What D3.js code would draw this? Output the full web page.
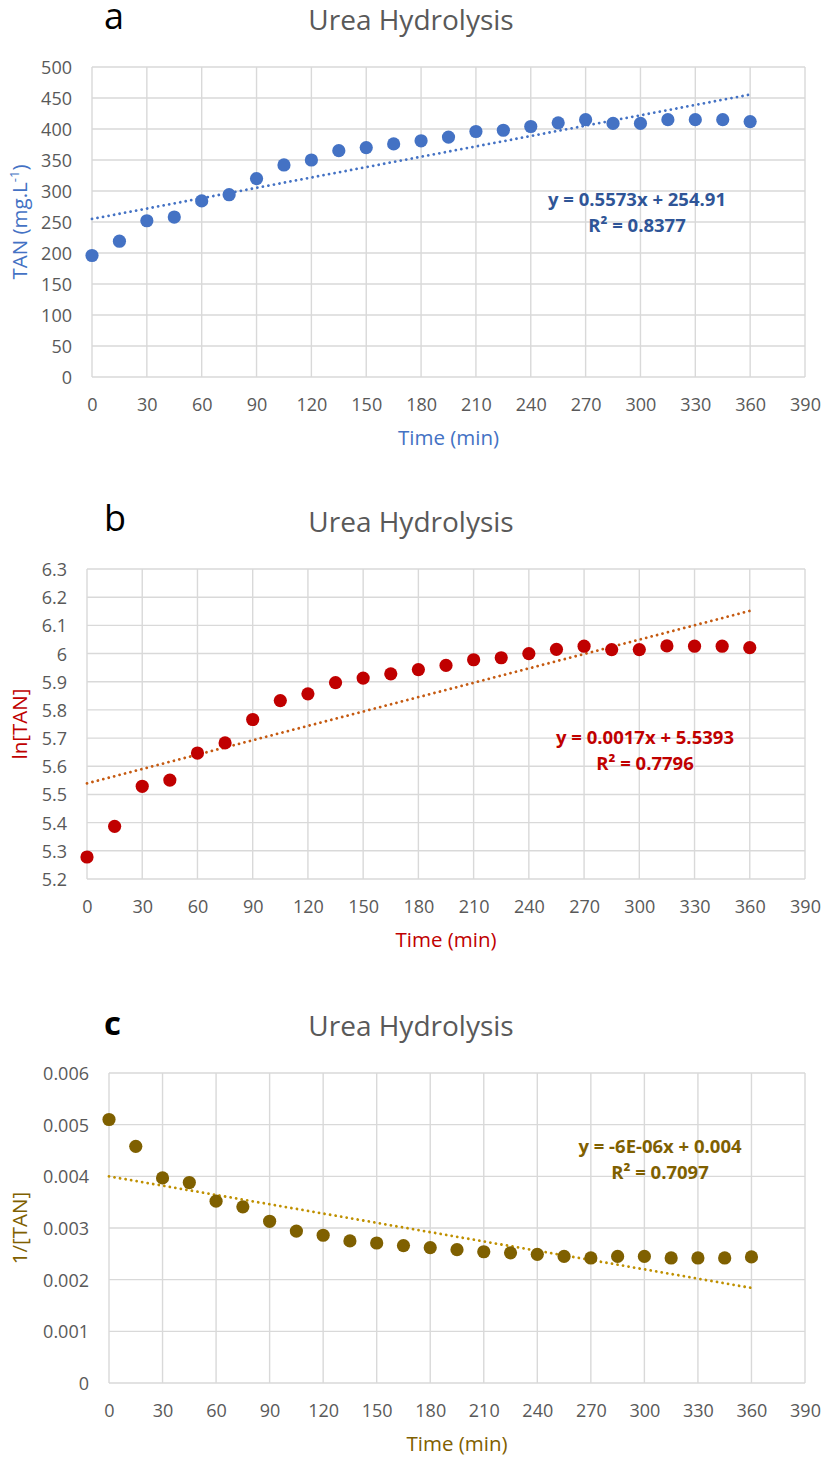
<!DOCTYPE html>
<html>
<head>
<meta charset="utf-8">
<script src="https://cdn.jsdelivr.net/npm/d3@7"></script>
<style>
  html, body { margin: 0; padding: 0; background: #fff; }
  svg { display: block; font-family: "Open Sans", "Noto Sans", sans-serif; }
</style>
</head>
<body>
<svg id="chart" width="823" height="1459"></svg>
<script>
// Sampling times (min)
const times = [0, 15, 30, 45, 60, 75, 90, 105, 120, 135, 150, 165, 180,
               195, 210, 225, 240, 255, 270, 285, 300, 315, 330, 345, 360];

// Total ammonia nitrogen, mg/L
const tanValues = [196, 219, 252, 258, 284, 294, 320, 342, 350, 365, 370, 376, 381,
                   387, 396, 398, 404, 410, 415, 409, 409, 415, 415, 415, 412];

// ln[TAN]
const lnTanValues = [5.278, 5.387, 5.529, 5.551, 5.647, 5.683, 5.766, 5.833, 5.857, 5.897, 5.913, 5.928, 5.943,
                     5.958, 5.978, 5.985, 6.000, 6.015, 6.026, 6.014, 6.014, 6.027, 6.026, 6.026, 6.021];

// 1/[TAN]
const invTanValues = [0.00510, 0.00458, 0.00397, 0.00388, 0.00352, 0.00341, 0.00313, 0.00294, 0.00286, 0.00275, 0.00271, 0.00266, 0.00262,
                      0.00258, 0.00254, 0.00252, 0.00249, 0.00245, 0.00242, 0.00245, 0.00245, 0.00242, 0.00242, 0.00242, 0.00244];

// Linear trendline coefficients [slope, intercept, R²]
const fitA = [0.5573, 254.91, 0.8377];
const fitB = [0.0017, 5.5393, 0.7796];
const fitC = [-6e-06, 0.004, 0.7097];

// Tick values
const xTicks = [0, 30, 60, 90, 120, 150, 180, 210, 240, 270, 300, 330, 360, 390];
const yTicksA = [0, 50, 100, 150, 200, 250, 300, 350, 400, 450, 500];
const yTicksB = [5.2, 5.3, 5.4, 5.5, 5.6, 5.7, 5.8, 5.9, 6.0, 6.1, 6.2, 6.3];
const yTicksC = [0, 0.001, 0.002, 0.003, 0.004, 0.005, 0.006];

const equationLabels = {
  a: ["y = 0.5573x + 254.91", "R² = 0.8377"],
  b: ["y = 0.0017x + 5.5393", "R² = 0.7796"],
  c: ["y = -6E-06x + 0.004", "R² = 0.7097"]
};

const svg = d3.select("#chart");

const panels = [
  {
    letter: "a", letterBold: false, letterSize: 36,
    box: {left: 92, right: 805, top: 67, bottom: 377},
    values: tanValues, fit: fitA, yTicks: yTicksA, yFmt: d3.format("d"),
    pointColor: "#4472C4", trendColor: "#4472C4", eqColor: "#2F5597",
    titleColor: "#4472C4", eqCenter: 637, eqBase: 206,
    yTitle: "TAN"
  },
  {
    letter: "b", letterBold: false, letterSize: 36,
    box: {left: 87, right: 805, top: 569, bottom: 879},
    values: lnTanValues, fit: fitB, yTicks: yTicksB, yFmt: d3.format(".1~f"),
    pointColor: "#C00000", trendColor: "#C55A11", eqColor: "#C00000",
    titleColor: "#C00000", eqCenter: 645, eqBase: 744,
    yTitle: "ln[TAN]"
  },
  {
    letter: "c", letterBold: true, letterSize: 33,
    box: {left: 109, right: 805, top: 1073, bottom: 1383},
    values: invTanValues, fit: fitC, yTicks: yTicksC, yFmt: d3.format(".3~f"),
    pointColor: "#7F6000", trendColor: "#BF9000", eqColor: "#7F6000",
    titleColor: "#7F6000", eqCenter: 660, eqBase: 1153,
    yTitle: "1/[TAN]"
  }
];

const gridColor = "#D9D9D9";
const tickColor = "#595959";

panels.forEach(p => {
  const b = p.box;
  const x = d3.scaleLinear().domain([0, 390]).range([b.left, b.right]);
  const yDom = [p.yTicks[0], p.yTicks[p.yTicks.length - 1]];
  const y = d3.scaleLinear().domain(yDom).range([b.bottom, b.top]);
  const g = svg.append("g");

  // letter tag and chart title
  g.append("text")
    .attr("x", 104).attr("y", b.top - 38)
    .attr("font-size", p.letterSize)
    .attr("font-weight", p.letterBold ? 700 : 400)
    .attr("fill", "#000")
    .text(p.letter);
  g.append("text")
    .attr("x", 411).attr("y", b.top - 37)
    .attr("text-anchor", "middle")
    .attr("font-size", 28)
    .attr("fill", "#595959")
    .text("Urea Hydrolysis");

  // gridlines
  g.append("g").selectAll("line").data(xTicks).join("line")
    .attr("x1", d => x(d)).attr("x2", d => x(d))
    .attr("y1", b.top).attr("y2", b.bottom)
    .attr("stroke", gridColor).attr("stroke-width", 1.4);
  g.append("g").selectAll("line").data(p.yTicks).join("line")
    .attr("x1", b.left).attr("x2", b.right)
    .attr("y1", d => y(d)).attr("y2", d => y(d))
    .attr("stroke", gridColor).attr("stroke-width", 1.4);

  // axes (labels only, lines come from the grid)
  const xAxis = g.append("g")
    .attr("transform", `translate(0,${b.bottom})`)
    .call(d3.axisBottom(x).tickValues(xTicks).tickSize(0).tickPadding(21).tickFormat(d3.format("d")));
  const yAxis = g.append("g")
    .attr("transform", `translate(${b.left},0)`)
    .call(d3.axisLeft(y).tickValues(p.yTicks).tickSize(0).tickPadding(20).tickFormat(p.yFmt));
  [xAxis, yAxis].forEach(a => {
    a.select(".domain").remove();
    a.selectAll("text").attr("fill", tickColor).attr("font-size", 18)
      .attr("font-family", "'Open Sans', 'Noto Sans', sans-serif");
  });
  yAxis.selectAll("text").attr("dy", "0.36em");

  // axis titles
  g.append("text")
    .attr("x", (b.left + b.right) / 2).attr("y", b.bottom + 68)
    .attr("text-anchor", "middle")
    .attr("font-size", 20.5)
    .attr("fill", p.titleColor)
    .text("Time (min)");
  const yt = g.append("text")
    .attr("transform", `translate(27,${(b.top + b.bottom) / 2}) rotate(-90)`)
    .attr("text-anchor", "middle")
    .attr("font-size", 20.5)
    .attr("fill", p.titleColor);
  if (p.letter === "a") {
    yt.append("tspan").text("TAN (mg.L");
    yt.append("tspan").attr("font-size", 13).attr("dy", -8).text("-1");
    yt.append("tspan").attr("dy", 8).text(")");
  } else {
    yt.text(p.yTitle);
  }

  // trendline over the sampled range
  const [slope, icpt] = p.fit;
  const trend = [times[0], times[times.length - 1]].map(t => [t, slope * t + icpt]);
  g.append("path")
    .attr("d", d3.line().x(d => x(d[0])).y(d => y(d[1]))(trend))
    .attr("fill", "none")
    .attr("stroke", p.trendColor)
    .attr("stroke-width", 2.8)
    .attr("stroke-linecap", "round")
    .attr("stroke-dasharray", "0.01 5.6");

  // data points
  g.append("g").selectAll("circle").data(times).join("circle")
    .attr("cx", d => x(d))
    .attr("cy", (d, i) => y(p.values[i]))
    .attr("r", 6.6)
    .attr("fill", p.pointColor);

  // equation label
  const lines = equationLabels[p.letter];
  g.append("g").selectAll("text").data(lines).join("text")
    .attr("x", p.eqCenter)
    .attr("y", (d, i) => p.eqBase + i * 25.5)
    .attr("text-anchor", "middle")
    .attr("font-size", 18.5)
    .attr("font-weight", 700)
    .attr("fill", p.eqColor)
    .text(d => d);
});
</script>
</body>
</html>
